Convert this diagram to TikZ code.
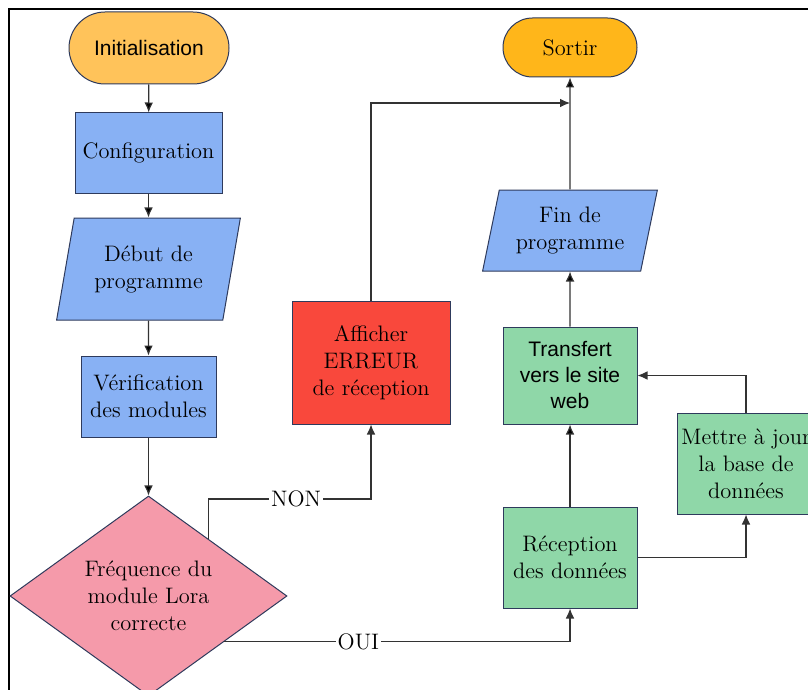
\documentclass[tikz,border=0pt]{standalone}
\usepackage{fontspec}
\newfontfamily\sansf{Liberation Sans}
\usetikzlibrary{shapes.geometric,calc,arrows.meta}

\definecolor{initcol}{HTML}{FFC35A}
\definecolor{sortcol}{HTML}{FFB61A}
\definecolor{bluecol}{HTML}{88B1F4}
\definecolor{redcol}{HTML}{F9483C}
\definecolor{greencol}{HTML}{8FD7A8}
\definecolor{pinkcol}{HTML}{F59AAA}
\definecolor{edgecol}{HTML}{2E3A5C}
\definecolor{arrcol}{HTML}{333333}

\begin{document}
\begin{tikzpicture}[x=0.5pt,y=-0.5pt,
  font=\fontsize{11.2}{13.5}\selectfont,
  box/.style={draw=edgecol,line width=0.5pt,align=center,inner sep=2pt},
  term/.style={box,rounded corners=#1},
  para/.style={box,trapezium,trapezium left angle=76,trapezium right angle=104,trapezium stretches=true,fill=bluecol},
  arr/.style={draw=arrcol,line width=0.6pt,-{Latex[length=5pt,width=4.4pt]}},
  lab/.style={fill=white,inner sep=1pt}]

\useasboundingbox (0,0) rectangle (808,690);
\draw[line width=1pt] (8.5,700) -- (8.5,9.5) -- (820,9.5);

\node[term=18pt,fill=initcol,minimum width=80pt,minimum height=36pt,font=\sansf\fontsize{10.5}{13}\selectfont] (init) at (149,48) {Initialisation};
\node[box,fill=bluecol,minimum width=73.5pt,minimum height=40pt] (config) at (148.5,153) {Configuration};
\node[para,minimum width=92.5pt,minimum height=51pt] (debut) at (148.5,269) {Début de\\programme};
\node[box,fill=bluecol,minimum width=67.5pt,minimum height=40.5pt] (verif) at (148.5,396.5) {Vérification\\des modules};
\node[box,diamond,aspect=1.385,fill=pinkcol,inner sep=0pt,minimum width=138.5pt,minimum height=100pt] (freq) at (148.5,596) {Fréquence du\\module Lora\\correcte};

\node[box,fill=redcol,minimum width=79pt,minimum height=61.5pt] (erreur) at (371,362.5) {Afficher\\ERREUR\\de réception};

\node[term=14.75pt,fill=sortcol,minimum width=67pt,minimum height=29.5pt] (sortir) at (570,47.5) {Sortir};
\node[para,minimum width=88pt,minimum height=40.5pt] (fin) at (570,230.5) {Fin de\\programme};
\node[box,fill=greencol,minimum width=67pt,minimum height=48.5pt,font=\sansf\fontsize{10.5}{13}\selectfont] (transfert) at (570,375.5) {Transfert\\vers le site\\web};
\node[box,fill=greencol,minimum width=67pt,minimum height=50.5pt] (reception) at (570,557.5) {Réception\\des données};
\node[box,fill=greencol,minimum width=67pt,minimum height=50.5pt] (maj) at (746,463.5) {Mettre à jour\\la base de\\données};

\coordinate (non) at (371,499);
\coordinate (join) at (570,103);

\path[arr] (init) edge (config);
\path[arr] (config) edge (debut);
\path[arr] (debut) edge (verif);
\path[arr] (verif) edge (freq);

\draw[arr] ($(freq.north)!0.43!(freq.east)$) |- node[lab,pos=0.77] {NON} (non) -- (erreur);
\draw[arr] (erreur) |- (join);
\draw[arr] ($(freq.east)!0.455!(freq.south)$) -| node[lab,pos=0.194] {OUI} (reception);

\path[arr] (reception) edge (transfert);
\draw[arr] (reception) -| (maj);
\draw[arr] (maj) |- (transfert);
\path[arr] (transfert) edge (fin);
\path[arr] (fin) edge (sortir);

\end{tikzpicture}
\end{document}
